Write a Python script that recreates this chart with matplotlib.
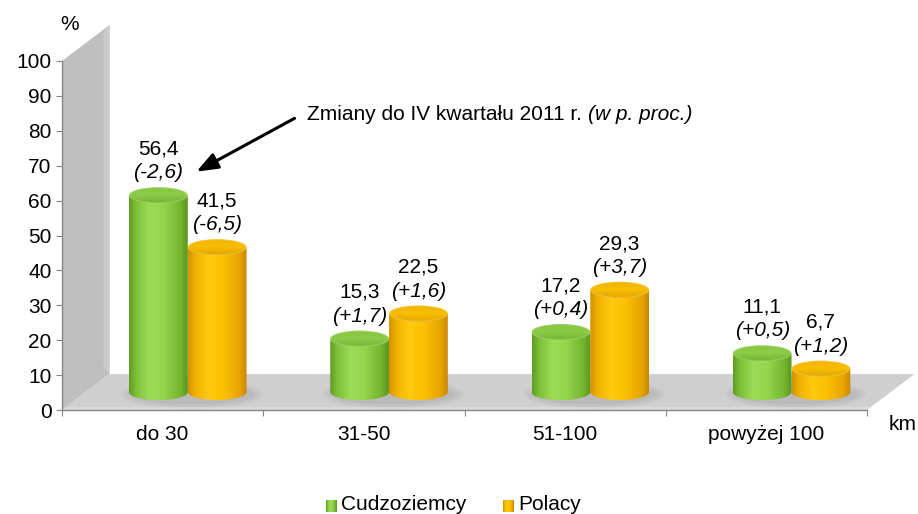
import numpy as np
import matplotlib
matplotlib.use("Agg")
import matplotlib.pyplot as plt
from matplotlib.path import Path
from matplotlib.patches import PathPatch, Ellipse, Polygon
from matplotlib.colors import LinearSegmentedColormap

plt.rcParams['font.family'] = ['Liberation Sans', 'DejaVu Sans']

# ---- data ----
categories = ["do 30", "31-50", "51-100", "powyżej 100"]
cudzoziemcy = [56.4, 15.3, 17.2, 11.1]
polacy = [41.5, 22.5, 29.3, 6.7]
zmiana_cudz = ["(-2,6)", "(+1,7)", "(+0,4)", "(+0,5)"]
zmiana_pol = ["(-6,5)", "(+1,6)", "(+3,7)", "(+1,2)"]
series_names = ["Cudzoziemcy", "Polacy"]
yticks = [0, 10, 20, 30, 40, 50, 60, 70, 80, 90, 100]

W, H = 918, 514
fig = plt.figure(figsize=(W / 100, H / 100), dpi=100)
ax = fig.add_axes([62 / W, 104 / H, 805 / W, 349 / H])
ax.set_xlim(0, 4)
ax.set_ylim(0, 100)

FS = 15
DX, DY = 0.236, 10.3      # depth offset in data units
BASE = DY / 2             # bars stand at mid depth
EH = 2.3                  # ellipse half-height (data units)
BW = 0.292                # bar width
OFF = 0.125

# wall and floor
wall = Polygon([(0, 0), (0, 100), (DX, 100 + DY), (DX, DY)], closed=True,
               facecolor="#bfbfbf", edgecolor="none", clip_on=False, zorder=0)
ax.add_patch(wall)
band = Polygon([(DX - 0.03, DY + 2), (DX - 0.03, 100 + DY - 2), (DX, 100 + DY), (DX, DY)],
               closed=True, facecolor="#cbcbcb", edgecolor="none", clip_on=False, zorder=0.1)
ax.add_patch(band)
floor = Polygon([(0, 0), (DX, DY), (4 + DX, DY), (4, 0)], closed=True,
                facecolor="#cfcfcf", edgecolor="none", clip_on=False, zorder=0.2)
ax.add_patch(floor)
edge = Polygon([(0, 0), (0.02, 0.9), (4 + 0.02, 0.9), (4, 0)], closed=True,
               facecolor="#dadada", edgecolor="none", clip_on=False, zorder=0.3)
ax.add_patch(edge)

green_body = LinearSegmentedColormap.from_list(
    "gb", [(0, "#5f9c22"), (0.12, "#7dbf38"), (0.35, "#9ddd56"), (0.6, "#93d44b"),
           (0.88, "#74b32e"), (1, "#5a951e")])
orange_body = LinearSegmentedColormap.from_list(
    "ob", [(0, "#d39200"), (0.12, "#efb000"), (0.35, "#ffca10"), (0.6, "#fcc000"),
           (0.88, "#e6a300"), (1, "#c98700")])
green_top = LinearSegmentedColormap.from_list("gt", ["#74b334", "#8dcd48", "#84c43e"])
orange_top = LinearSegmentedColormap.from_list("ot", ["#e2a400", "#f8be00", "#f0b300"])

grad_h = np.linspace(0, 1, 256).reshape(1, -1)
grad_v = np.linspace(0, 1, 64).reshape(-1, 1)


def shadow(xc, w):
    for k, a in enumerate([0.05, 0.05, 0.06, 0.07]):
        e = Ellipse((xc + 0.02, BASE - 0.6), w + 0.12 - k * 0.03, 2 * EH + 4 - k * 1.0,
                    facecolor="#707070", edgecolor="none", alpha=a, zorder=1)
        ax.add_patch(e)


def cylinder(xc, w, val, cbody, ctop, z):
    x0, x1 = xc - w / 2, xc + w / 2
    top = BASE + val
    t = np.linspace(np.pi, 2 * np.pi, 60)
    verts = [(x0, top), (x0, BASE)]
    verts += list(zip(xc + w / 2 * np.cos(t), BASE + EH * np.sin(t)))
    verts += [(x1, top), (x0, top)]
    codes = [Path.MOVETO] + [Path.LINETO] * (len(verts) - 2) + [Path.CLOSEPOLY]
    body = PathPatch(Path(verts, codes), facecolor="none", edgecolor="none", zorder=z)
    ax.add_patch(body)
    im = ax.imshow(grad_h, cmap=cbody, extent=[x0, x1, BASE - EH, top], aspect="auto",
                   zorder=z, interpolation="bilinear", origin="lower")
    im.set_clip_path(body)
    el = Ellipse((xc, top), w, 2 * EH, facecolor="none", edgecolor="none", zorder=z + 0.1)
    ax.add_patch(el)
    im2 = ax.imshow(grad_v, cmap=ctop, extent=[x0, x1, top - EH, top + EH], aspect="auto",
                    zorder=z + 0.1, interpolation="bilinear", origin="lower")
    im2.set_clip_path(el)
    rim = Ellipse((xc, top), w * 0.985, 2 * EH * 0.95, facecolor="none",
                  edgecolor=(1, 1, 1, 0.18), lw=1.0, zorder=z + 0.2)
    ax.add_patch(rim)


for i in range(len(categories)):
    xg = i + 0.5 + OFF - BW / 2
    xo = i + 0.5 + OFF + BW / 2
    shadow(i + 0.5 + OFF, 2 * BW)
    cylinder(xg, BW, cudzoziemcy[i], green_body, green_top, 2)
    cylinder(xo, BW, polacy[i], orange_body, orange_top, 3)
    for xc, v, z in [(xg, cudzoziemcy[i], zmiana_cudz[i]), (xo, polacy[i], zmiana_pol[i])]:
        ytop = BASE + v + EH
        ax.annotate(f"{v:.1f}".replace(".", ","), (xc, ytop), xytext=(0, 27.5),
                    textcoords="offset points", ha="center", va="center",
                    fontsize=FS, annotation_clip=False, zorder=6)
        ax.annotate(z, (xc, ytop), xytext=(0, 10.3), textcoords="offset points",
                    ha="center", va="center", fontsize=FS, style="italic",
                    annotation_clip=False, zorder=6)

# axes styling
for s in ["top", "right"]:
    ax.spines[s].set_visible(False)
for s in ["left", "bottom"]:
    ax.spines[s].set_color("#868686")
    ax.spines[s].set_linewidth(1.0)
    ax.spines[s].set_zorder(5)
ax.set_yticks(yticks)
ax.set_yticklabels([str(v) for v in yticks], fontsize=FS)
ax.set_xticks([0, 1, 2, 3, 4])
ax.set_xticklabels([])
ax.set_xticks([0.5, 1.5, 2.5, 3.5], minor=True)
ax.set_xticklabels(categories, minor=True, fontsize=FS)
ax.tick_params(axis="x", which="minor", length=0, pad=11)
ax.tick_params(axis="x", which="major", length=4.5, color="#868686", direction="out")
ax.tick_params(axis="y", length=4.5, color="#868686", pad=3)
ax.patch.set_visible(False)


def px(x, y):
    return (x / W, 1 - y / H)


fig.text(*px(70, 25), "%", fontsize=FS, ha="center", va="center")
fig.text(*px(903, 424), "km", fontsize=FS, ha="center", va="center")

# annotation
t1 = fig.text(*px(307, 114), "Zmiany do IV kwartału 2011 r. ", fontsize=FS,
              ha="left", va="center")
fig.canvas.draw()
bb = t1.get_window_extent(renderer=fig.canvas.get_renderer())
fig.text(bb.x1 / W, 1 - 114 / H, "(w p. proc.)", fontsize=FS, style="italic",
         ha="left", va="center")
fig.add_artist(matplotlib.patches.FancyArrowPatch(
    px(297, 117), px(194, 173), transform=fig.transFigure,
    arrowstyle="-|>,head_length=13,head_width=5", color="black", lw=2.2,
    mutation_scale=1))

# legend
for (x_sq, x_tx, name, cmap) in [(326, 341, series_names[0], green_body),
                                  (503, 518, series_names[1], orange_body)]:
    sq_ax = fig.add_axes([x_sq / W, 1 - 512 / H, 11 / W, 12 / H])
    sq_ax.imshow(np.linspace(0, 1, 32).reshape(1, -1), cmap=cmap, aspect="auto",
                 extent=[0, 1, 0, 1])
    sq_ax.set_axis_off()
    fig.text(*px(x_tx, 505), name, fontsize=FS, ha="left", va="center")

fig.savefig("out.png", dpi=100)
